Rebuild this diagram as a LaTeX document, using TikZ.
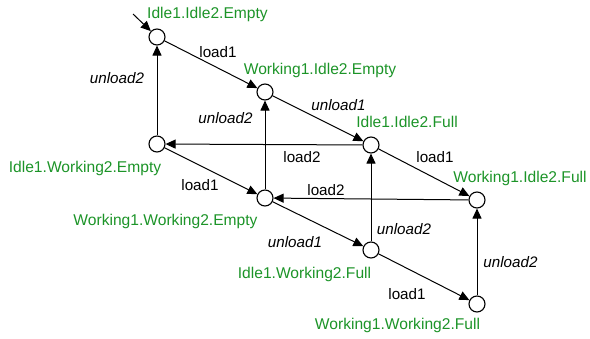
\documentclass[tikz,border=0pt]{standalone}
\usepackage{fontspec}
\setmainfont{Liberation Sans}
\usepackage{xcolor}
\usetikzlibrary{arrows.meta}

\definecolor{stategreen}{RGB}{28,148,40}

\begin{document}
\begin{tikzpicture}[x=1pt,y=-1pt,
  state/.style={circle,draw,line width=1.1pt,minimum size=16pt,inner sep=0pt},
  trans/.style={-{Triangle[length=10pt,width=9pt]},line width=1pt},
  statename/.style={text=stategreen,font=\fontsize{15.6}{18}\selectfont,inner sep=0pt},
  act/.style={font=\fontsize{15.2}{18}\selectfont,inner sep=0pt}]
  \useasboundingbox (0,0) rectangle (590,338);

  % States of the two machines and the buffer
  \node[state] (IIE) at (157,37)  {};
  \node[state] (WIE) at (265,92)  {};
  \node[state] (IIF) at (371,145) {};
  \node[state] (IWE) at (157,144) {};
  \node[state] (WWE) at (265,198) {};
  \node[state] (WIF) at (477,200) {};
  \node[state] (IWF) at (371,250) {};
  \node[state] (WWF) at (477,304) {};

  % State names
  \node[statename] (nIIE) at (207.5,14) {Idle1.Idle2.Empty};
  \node[statename] (nWIE) at (320,70)   {Working1.Idle2.Empty};
  \node[statename] (nIIF) at (407,122)  {Idle1.Idle2.Full};
  \node[statename] (nIWE) at (85,168)   {Idle1.Working2.Empty};
  \node[statename] (nWWE) at (165.5,221) {Working1.Working2.Empty};
  \node[statename] (nWIF) at (520,178)  {Working1.Idle2.Full};
  \node[statename] (nIWF) at (304.5,274) {Idle1.Working2.Full};
  \node[statename] (nWWF) at (397.5,325) {Working1.Working2.Full};

  % Initial state
  \coordinate (init) at (133,14);
  \draw[trans] (init) -- (IIE);

  % Transitions
  \draw[trans] (IIE) -- (WIE);
  \draw[trans] (WIE) -- (IIF);
  \draw[trans] (IIF) -- (WIF);
  \draw[trans] (IWE) -- (IIE);
  \draw[trans] (WWE) -- (WIE);
  \draw[trans] (IIF) -- (IWE);
  \draw[trans] (IWE) -- (WWE);
  \draw[trans] (WIF) -- (WWE);
  \draw[trans] (IWF) -- (IIF);
  \draw[trans] (WWE) -- (IWF);
  \draw[trans] (IWF) -- (WWF);
  \draw[trans] (WWF) -- (WIF);

  % Transition labels
  \node[act] (l1) at (218,52) {load1};
  \node[act] (l2) at (338.5,105) {\itshape unload1};
  \node[act] (l3) at (435,157)  {load1};
  \node[act] (l4) at (117,78)   {\itshape unload2};
  \node[act] (l5) at (225.5,118) {\itshape unload2};
  \node[act] (l6) at (302,157)  {load2};
  \node[act] (l7) at (200,185)  {load1};
  \node[act] (l8) at (326,190)  {load2};
  \node[act] (l9) at (404,229)  {\itshape unload2};
  \node[act] (l10) at (295,242) {\itshape unload1};
  \node[act] (l11) at (407,294) {load1};
  \node[act] (l12) at (510.5,262) {\itshape unload2};
\end{tikzpicture}
\end{document}
